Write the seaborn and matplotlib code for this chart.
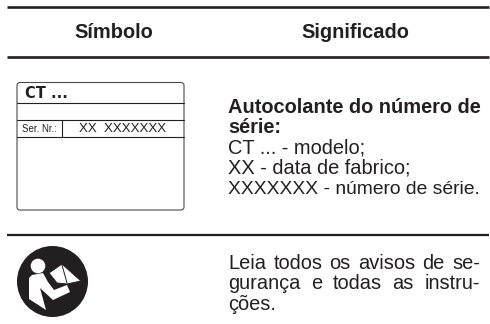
import matplotlib
matplotlib.use("Agg")
import matplotlib.pyplot as plt
from matplotlib.patches import Circle, FancyBboxPatch, Polygon
import seaborn as sns

headers = ["Símbolo", "Significado"]
sticker_title = "Autocolante do número de"
sticker_title2 = "série:"
sticker_lines = ["CT ... - modelo;", "XX - data de fabrico;", "XXXXXXX - número de série."]
warning_lines = ["Leia todos os avisos de se-", "gurança e todas as instru-", "ções."]
serial_label = "Ser. Nr.:"
serial_value = "XX  XXXXXXX"
model_label = "CT ..."

sns.set_theme(style="white")
plt.rcParams["font.family"] = ["Liberation Sans", "DejaVu Sans"]

INK = "#231f20"
SIZE = 14.4
fig = plt.figure(figsize=(4.9, 3.24), dpi=100)
ax = fig.add_axes([0, 0, 1, 1])
ax.set_xlim(0, 490)
ax.set_ylim(324, 0)
ax.axis("off")

# table rules
for y, lw in [(6.5, 1.9), (57, 1.9), (235, 1.6)]:
    ax.plot([7, 489], [y, y], color=INK, lw=lw, solid_capstyle="butt")

ax.text(114, 32, headers[0], ha="center", va="center", fontsize=SIZE, fontweight="bold", color=INK)
ax.text(355, 32, headers[1], ha="center", va="center", fontsize=SIZE, fontweight="bold", color=INK)


def justified(words_line, y, x0=228, x1=480, size=SIZE):
    # spread the words over the column width
    words = words_line.split()
    items = [ax.text(x0, y, w, fontsize=size, color=INK, va="baseline") for w in words]
    rend = fig.canvas.get_renderer()
    inv = ax.transData.inverted()
    widths = []
    for t in items:
        bb = t.get_window_extent(rend)
        widths.append(inv.transform((bb.x1, 0))[0] - inv.transform((bb.x0, 0))[0])
    gap = (x1 - x0 - sum(widths)) / (len(words) - 1)
    x = x0
    for t, w in zip(items, widths):
        t.set_x(x)
        x += w + gap


# right column, sticker row
ax.text(228, 113, sticker_title, fontsize=SIZE, fontweight="bold", color=INK, va="baseline")
ax.text(228, 133, sticker_title2, fontsize=SIZE, fontweight="bold", color=INK, va="baseline")
for y, line, size in zip([154, 174, 194], sticker_lines, [SIZE, SIZE, 13.9]):
    ax.text(228, y, line, fontsize=size, color=INK, va="baseline")

# right column, warning row
justified(warning_lines[0], 269)
justified(warning_lines[1], 289)
ax.text(228, 310, warning_lines[2], fontsize=SIZE, color=INK, va="baseline")

# sticker drawing
ax.add_patch(FancyBboxPatch((17, 82.5), 167, 127.5, boxstyle="round,pad=0,rounding_size=3",
                            fc="white", ec="#4a4a4a", lw=0.8))
for y in [103, 120, 137]:
    ax.plot([17, 184], [y, y], color=INK, lw=0.8)
ax.plot([61.5, 61.5], [120, 137], color=INK, lw=0.8)
ax.text(24.5, 94, model_label, fontsize=10.5, fontweight="bold", color=INK, va="center",
        family="DejaVu Sans")
ax.text(21.5, 129, serial_label, fontsize=7, color=INK, va="center")
ax.text(122.5, 129, serial_value, fontsize=9.5, color=INK, va="center", ha="center")

# read-the-manual icon
ax.add_patch(Circle((52.5, 281.5), 35.5, fc=INK, ec="none"))
ax.add_patch(Circle((38, 266), 7.3, fc="white", ec="none"))
ax.add_patch(Polygon([(29, 278), (32, 275), (43, 273), (48, 282), (54, 290), (67, 285), (70, 292),
                      (53, 300), (40, 288), (46, 310), (29, 299)],
                     closed=True, fc="white", ec="none"))
ax.add_patch(Polygon([(49, 273), (62, 264), (81, 281), (67, 284), (57, 283)],
                     closed=True, fc="white", ec=INK, lw=0.7))
ax.plot([62, 67], [265, 283], color=INK, lw=0.7)

fig.savefig("out.png", dpi=100, facecolor="white")
